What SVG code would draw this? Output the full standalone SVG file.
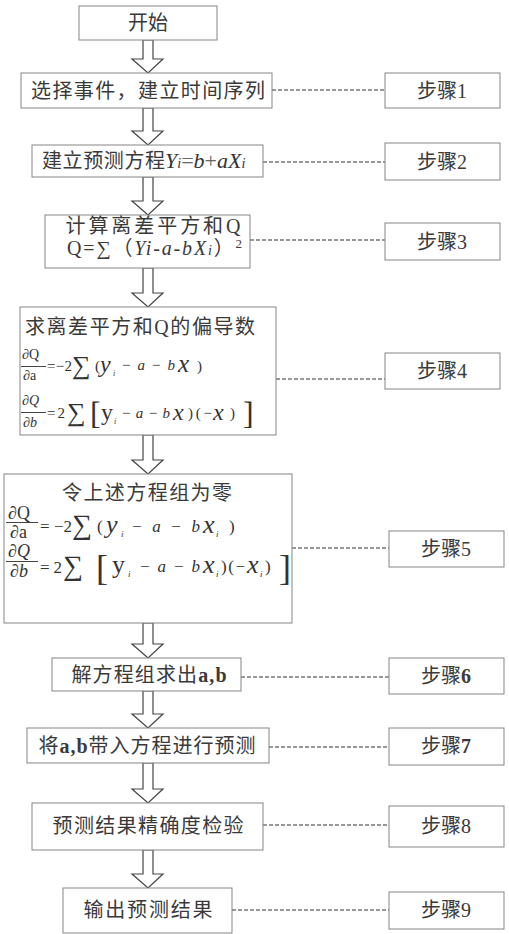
<svg xmlns="http://www.w3.org/2000/svg" width="509" height="934" viewBox="0 0 509 934">
<defs>
<style>
.box{fill:#fff;stroke:#858585;stroke-width:1}
.t{font-family:"Liberation Serif","Noto Sans CJK SC",serif;font-size:20px;fill:#3a3a3a}
.c{text-anchor:middle;dominant-baseline:central}
.i{font-style:italic}
.m{font-family:"Liberation Serif",serif;fill:#333}
.arrow{fill:#fff;stroke:#444;stroke-width:1.2;stroke-linejoin:miter}
.dash{stroke:#333;stroke-width:1.2;stroke-dasharray:4 2;fill:none}
.bar{stroke:#444;stroke-width:1}
</style>
</defs>
<rect width="509" height="934" fill="#fff"/>
<g id="connectors">
<path class="arrow" d="M143,40 L153,40 L153,59 L163,59 L148,73 L132,59 L143,59 Z"/>
<path class="arrow" d="M143,108 L153,108 L153,131 L163,131 L148,145 L132,131 L143,131 Z"/>
<path class="arrow" d="M143,177 L153,177 L153,201 L163,201 L148,215 L132,201 L143,201 Z"/>
<path class="arrow" d="M143,268 L153,268 L153,293 L163,293 L148,307 L132,293 L143,293 Z"/>
<path class="arrow" d="M143,435 L153,435 L153,460 L163,460 L148,474 L132,460 L143,460 Z"/>
<path class="arrow" d="M143,623 L153,623 L153,644 L163,644 L148,658 L132,644 L143,644 Z"/>
<path class="arrow" d="M143,691 L153,691 L153,714 L163,714 L148,728 L132,714 L143,714 Z"/>
<path class="arrow" d="M143,763 L153,763 L153,789 L163,789 L148,803 L132,789 L143,789 Z"/>
<path class="arrow" d="M143,850 L153,850 L153,874 L163,874 L148,888 L132,874 L143,874 Z"/>
<line class="dash" x1="272" y1="90" x2="385" y2="90"/>
<line class="dash" x1="263" y1="162" x2="385" y2="162"/>
<line class="dash" x1="250" y1="240" x2="385" y2="240"/>
<line class="dash" x1="276" y1="379" x2="385" y2="379"/>
<line class="dash" x1="292" y1="548" x2="389" y2="548"/>
<line class="dash" x1="241" y1="677" x2="389" y2="677"/>
<line class="dash" x1="269" y1="747" x2="389" y2="747"/>
<line class="dash" x1="263" y1="825" x2="389" y2="825"/>
<line class="dash" x1="232" y1="910" x2="389" y2="910"/>
</g>
<g id="n0">
<rect class="box" x="79" y="6" width="138" height="34"/>
<text class="t c" x="148" y="23" textLength="40" lengthAdjust="spacing">开始</text>
</g>
<g id="n1">
<rect class="box" x="21" y="73" width="251" height="35"/>
<text class="t c" x="148" y="91" textLength="234" lengthAdjust="spacing">选择事件，建立时间序列</text>
</g>
<g id="n2">
<rect class="box" x="32" y="145" width="231" height="32"/>
<text class="t" x="42" y="168" textLength="123" lengthAdjust="spacing">建立预测方程</text>
<text class="m" x="165" y="168" font-size="22"><tspan class="i">Y</tspan><tspan class="i" font-size="14">i</tspan><tspan fill="#666">=</tspan><tspan class="i">b</tspan><tspan fill="#666">+</tspan><tspan class="i">aX</tspan><tspan class="i" font-size="14">i</tspan></text>
</g>
<g id="n3">
<rect class="box" x="45" y="215" width="205" height="53"/>
<text class="t c" x="153" y="226" textLength="175" lengthAdjust="spacing">计算离差平方和Q</text>
<text class="t" x="67" y="255" textLength="175" lengthAdjust="spacing">Q=∑（<tspan class="i">Yi-a-bX</tspan><tspan class="i" font-size="14">i</tspan>）<tspan font-size="13" dy="-7">2</tspan></text>
</g>
<g id="n4">
<rect class="box" x="20" y="307" width="256" height="128"/>
<text class="t" x="25" y="334" textLength="230" lengthAdjust="spacing">求离差平方和Q的偏导数</text>
<text class="m" x="22" y="359" font-size="14">∂Q</text>
<line class="bar" x1="21" y1="366.5" x2="46" y2="366.5"/>
<text class="m" x="23" y="380" font-size="14">∂a</text>
<text class="m" x="47" y="371" font-size="15" fill="#555" textLength="25" lengthAdjust="spacing">=−2</text>
<text class="m" x="72" y="374" font-size="26">∑</text>
<text class="m" x="95" y="371" font-size="15">(</text>
<text class="m i" x="100" y="372" font-size="24">y</text>
<text class="m i" x="113" y="376" font-size="8">i</text>
<text class="m" x="122" y="370" font-size="15" textLength="53" lengthAdjust="spacing"><tspan>−</tspan><tspan class="i">a</tspan><tspan>−</tspan><tspan class="i">b</tspan></text>
<text class="m i" x="178" y="372" font-size="25">x</text>
<text class="m" x="197" y="371" font-size="15">)</text>
<text class="m" x="22" y="405" font-size="14">∂<tspan class="i">Q</tspan></text>
<line class="bar" x1="21" y1="412.5" x2="46" y2="412.5"/>
<text class="m" x="23" y="427" font-size="14">∂<tspan class="i">b</tspan></text>
<text class="m" x="47" y="418" font-size="15" fill="#555" textLength="18" lengthAdjust="spacing">=2</text>
<text class="m" x="67" y="421" font-size="26">∑</text>
<text class="m" x="90" y="424" font-size="32">[</text>
<text class="m" x="101" y="420" font-size="24">y</text>
<text class="m i" x="114" y="424" font-size="8">i</text>
<text class="m" x="122" y="418" font-size="15" textLength="48" lengthAdjust="spacing"><tspan>−</tspan><tspan class="i">a</tspan><tspan>−</tspan><tspan class="i">b</tspan></text>
<text class="m i" x="173" y="420" font-size="24">x</text>
<text class="m" x="188" y="418" font-size="15" textLength="24" lengthAdjust="spacing">)(−</text>
<text class="m i" x="213" y="420" font-size="24">x</text>
<text class="m" x="230" y="418" font-size="15">)</text>
<text class="m" x="243" y="424" font-size="32">]</text>
</g>
<g id="n5">
<rect class="box" x="4" y="474" width="288" height="149"/>
<text class="t c" x="147" y="493" textLength="170" lengthAdjust="spacing">令上述方程组为零</text>
<text class="m" x="8" y="519" font-size="18">∂Q</text>
<line class="bar" x1="6" y1="522.5" x2="38" y2="522.5"/>
<text class="m" x="10" y="538" font-size="18">∂a</text>
<text class="m" x="40" y="532" font-size="17" textLength="32" lengthAdjust="spacing">= −2</text>
<text class="m" x="72" y="534" font-size="28">∑</text>
<text class="m" x="97" y="532" font-size="17">(</text>
<text class="m i" x="106" y="533" font-size="26">y</text>
<text class="m i" x="121" y="537" font-size="9">i</text>
<text class="m" x="132" y="532" font-size="17" textLength="68" lengthAdjust="spacing"><tspan>− </tspan><tspan class="i">a</tspan><tspan> − </tspan><tspan class="i">b</tspan></text>
<text class="m i" x="203" y="533" font-size="26">x</text>
<text class="m i" x="216" y="537" font-size="9">i</text>
<text class="m" x="229" y="532" font-size="17">)</text>
<text class="m" x="8" y="557" font-size="18">∂<tspan class="i">Q</tspan></text>
<line class="bar" x1="6" y1="561.5" x2="38" y2="561.5"/>
<text class="m" x="10" y="577" font-size="18">∂<tspan class="i">b</tspan></text>
<text class="m" x="40" y="573" font-size="17" textLength="22" lengthAdjust="spacing">= 2</text>
<text class="m" x="63" y="575" font-size="28">∑</text>
<text class="m" x="96" y="580" font-size="36">[</text>
<text class="m" x="112" y="573" font-size="26">y</text>
<text class="m i" x="128" y="577" font-size="9">i</text>
<text class="m" x="140" y="572" font-size="17" textLength="60" lengthAdjust="spacing"><tspan>− </tspan><tspan class="i">a</tspan><tspan> − </tspan><tspan class="i">b</tspan></text>
<text class="m i" x="203" y="573" font-size="26">x</text>
<text class="m i" x="216" y="577" font-size="9">i</text>
<text class="m" x="221" y="572" font-size="17" textLength="24" lengthAdjust="spacing">)(−</text>
<text class="m i" x="247" y="573" font-size="26">x</text>
<text class="m i" x="260" y="577" font-size="9">i</text>
<text class="m" x="265" y="572" font-size="17">)</text>
<text class="m" x="279" y="580" font-size="36">]</text>
</g>
<g id="n6">
<rect class="box" x="52" y="658" width="189" height="33"/>
<text class="t c" x="149" y="675" textLength="155" lengthAdjust="spacing">解方程组求出<tspan font-weight="bold">a,b</tspan></text>
</g>
<g id="n7">
<rect class="box" x="27" y="728" width="242" height="35"/>
<text class="t c" x="147" y="746" textLength="217" lengthAdjust="spacing">将<tspan font-weight="bold">a,b</tspan>带入方程进行预测</text>
</g>
<g id="n8">
<rect class="box" x="32" y="803" width="231" height="47"/>
<text class="t c" x="148" y="826" textLength="191" lengthAdjust="spacing">预测结果精确度检验</text>
</g>
<g id="n9">
<rect class="box" x="63" y="888" width="169" height="45"/>
<text class="t c" x="148" y="910" textLength="129" lengthAdjust="spacing">输出预测结果</text>
</g>
<g id="s1"><rect class="box" x="385" y="73" width="115" height="35"/><text class="t c" x="442" y="91">步骤1</text></g>
<g id="s2"><rect class="box" x="385" y="143" width="115" height="37"/><text class="t c" x="442" y="162">步骤2</text></g>
<g id="s3"><rect class="box" x="385" y="223" width="115" height="37"/><text class="t c" x="442" y="242">步骤3</text></g>
<g id="s4"><rect class="box" x="385" y="353" width="115" height="36"/><text class="t c" x="442" y="371">步骤4</text></g>
<g id="s5"><rect class="box" x="389" y="531" width="115" height="36"/><text class="t c" x="446" y="549">步骤5</text></g>
<g id="s6"><rect class="box" x="389" y="658" width="115" height="36"/><text class="t c" x="446" y="676">步骤<tspan font-weight="bold">6</tspan></text></g>
<g id="s7"><rect class="box" x="389" y="728" width="115" height="37"/><text class="t c" x="446" y="746">步骤<tspan font-weight="bold">7</tspan></text></g>
<g id="s8"><rect class="box" x="389" y="806" width="115" height="41"/><text class="t c" x="446" y="826">步骤8</text></g>
<g id="s9"><rect class="box" x="389" y="892" width="115" height="37"/><text class="t c" x="446" y="910">步骤9</text></g>
</svg>
